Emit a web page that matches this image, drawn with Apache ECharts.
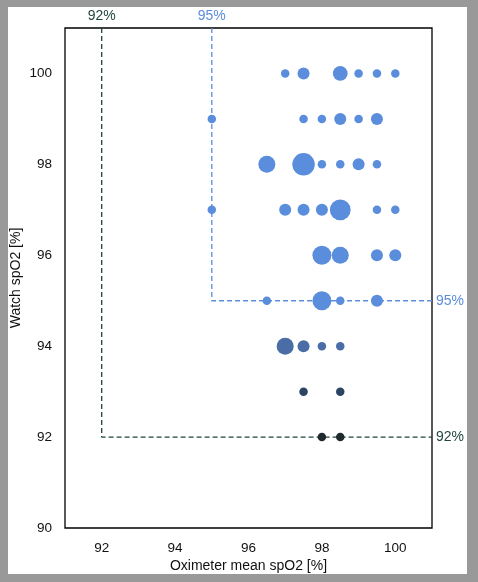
<!DOCTYPE html>
<html>
<head>
<meta charset="utf-8">
<script src="https://cdn.jsdelivr.net/npm/echarts@6/dist/echarts.min.js"></script>
<style>
  html, body { margin: 0; padding: 0; background: #999999; }
  #frame { position: absolute; left: 8px; top: 7px; width: 459px; height: 567px; background: #ffffff; }
  #chart { position: absolute; left: 0; top: 0; width: 478px; height: 582px; }
</style>
</head>
<body>
<div id="frame"></div>
<div id="chart"></div>
<script>
// ---- data ----
const oximeter = [97, 97.5, 98.5, 99, 99.5, 100,
                  95, 97.5, 98, 98.5, 99, 99.5,
                  96.5, 97.5, 98, 98.5, 99, 99.5,
                  95, 97, 97.5, 98, 98.5, 99.5, 100,
                  98, 98.5, 99.5, 100,
                  96.5, 98, 98.5, 99.5,
                  97, 97.5, 98, 98.5,
                  97.5, 98.5,
                  98, 98.5];
const watch =    [100, 100, 100, 100, 100, 100,
                  99, 99, 99, 99, 99, 99,
                  98, 98, 98, 98, 98, 98,
                  97, 97, 97, 97, 97, 97, 97,
                  96, 96, 96, 96,
                  95, 95, 95, 95,
                  94, 94, 94, 94,
                  93, 93,
                  92, 92];
const counts =   [1, 2, 3, 1, 1, 1,
                  1, 1, 1, 2, 1, 2,
                  4, 7, 1, 1, 2, 1,
                  1, 2, 2, 2, 6, 1, 1,
                  5, 4, 2, 2,
                  1, 5, 1, 2,
                  4, 2, 1, 1,
                  1, 1,
                  1, 1];
const thresholds = [92, 95];
const thresholdLabels = ['92%', '95%'];
const xTicks = [92, 94, 96, 98, 100];
const yTicks = [90, 92, 94, 96, 98, 100];
const xRange = [91, 101];
const yRange = [90, 101];

// ---- build ----
const points = oximeter.map((x, i) => [x, watch[i], counts[i]]);
const thresholdColors = ['#22463f', '#5a8ddb'];
const font = '"Liberation Sans", Arial, sans-serif';

const lineSeries = thresholds.map((t, i) => ({
  type: 'line',
  z: 1,
  clip: false,
  symbol: 'circle',
  symbolSize: 0,
  showSymbol: true,
  silent: true,
  lineStyle: { color: thresholdColors[i], width: 1.3, type: [5, 3] },
  itemStyle: { color: thresholdColors[i] },
  data: [
    { value: [t, yRange[1]], label: { show: true, position: 'top', distance: 5, formatter: thresholdLabels[i],
        color: thresholdColors[i], fontSize: 14, fontFamily: font } },
    { value: [t, t] },
    { value: [xRange[1], t], label: { show: true, position: 'right', distance: 4, formatter: thresholdLabels[i],
        color: thresholdColors[i], fontSize: 14, fontFamily: font } }
  ]
}));

const chart = echarts.init(document.getElementById('chart'), null, { renderer: 'canvas' });
chart.setOption({
  backgroundColor: 'transparent',
  animation: false,
  grid: { left: 65, right: 46, top: 28, bottom: 54, outerBoundsMode: 'none', containLabel: false,
          show: true, borderColor: '#000', borderWidth: 1.3, backgroundColor: 'transparent' },
  xAxis: {
    type: 'value', min: xRange[0], max: xRange[1],
    name: 'Oximeter mean spO2 [%]', nameLocation: 'middle', nameGap: 31, nameMoveOverlap: false,
    nameTextStyle: { fontSize: 14, color: '#111', fontFamily: font },
    axisLine: { show: false }, axisTick: { show: false }, splitLine: { show: false },
    axisLabel: { customValues: xTicks, fontSize: 13.5, color: '#111', margin: 13, fontFamily: font }
  },
  yAxis: {
    type: 'value', min: yRange[0], max: yRange[1],
    name: 'Watch spO2 [%]', nameLocation: 'middle', nameGap: 42, nameMoveOverlap: false,
    nameTextStyle: { fontSize: 14, color: '#111', fontFamily: font },
    axisLine: { show: false }, axisTick: { show: false }, splitLine: { show: false },
    axisLabel: { customValues: yTicks, fontSize: 13.5, color: '#111', margin: 13, fontFamily: font }
  },
  visualMap: {
    show: false, type: 'piecewise', dimension: 1, seriesIndex: 2,
    pieces: [
      { value: 92, color: '#1e2a2d' },
      { value: 93, color: '#2c4464' },
      { value: 94, color: '#4a6da6' },
      { gte: 95, color: '#5a8ddb' }
    ]
  },
  series: lineSeries.concat([{
    type: 'scatter',
    z: 3,
    symbolSize: v => 8.5 * Math.sqrt(v[2]),
    itemStyle: { opacity: 1 },
    data: points
  }])
});
</script>
</body>
</html>
